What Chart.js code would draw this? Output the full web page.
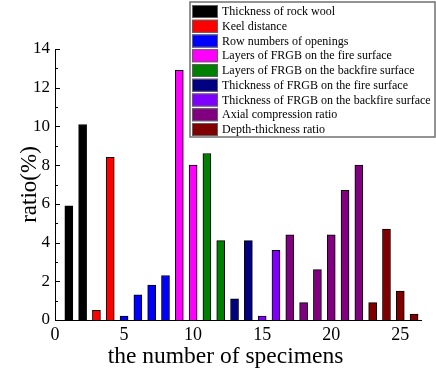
<!DOCTYPE html>
<html>
<head>
<meta charset="utf-8">
<script src="https://cdn.jsdelivr.net/npm/chart.js@4.4.1/dist/chart.umd.min.js"></script>
<style>
  html, body { margin: 0; padding: 0; background: #fff; }
</style>
</head>
<body>
<canvas id="ratioChart" width="436" height="372"></canvas>
<script>
// specimen groups (one colour per parameter)
const groupLabels = [
  'Thickness of rock wool',
  'Keel distance',
  'Row numbers of openings',
  'Layers of FRGB on the fire surface',
  'Layers of FRGB on the backfire surface',
  'Thickness of FRGB on the fire surface',
  'Thickness of FRGB on the backfire surface',
  'Axial compression ratio',
  'Depth-thickness ratio'
];
const groupColors = ['#000000', '#ff0000', '#0000ff', '#ff00ff', '#008000', '#000080', '#8000ff', '#800080', '#800000'];

// specimen numbers and ratio (%) for each group
const groupSpecimens = [
  [1, 2], [3, 4], [5, 6, 7, 8], [9, 10], [11, 12], [13, 14], [15, 16],
  [17, 18, 19, 20, 21, 22], [23, 24, 25, 26]
];
const groupRatios = [
  [5.9, 10.1], [0.5, 8.4], [0.2, 1.3, 1.8, 2.3], [12.9, 8.0], [8.6, 4.1], [1.1, 4.1], [0.2, 3.6],
  [4.4, 0.9, 2.6, 4.4, 6.7, 8.0], [0.9, 4.7, 1.5, 0.3]
];

// axis ticks
const xTicks = [0, 5, 10, 15, 20, 25];
const yTicks = [0, 2, 4, 6, 8, 10, 12, 14];
const yMinorTicks = [1, 3, 5, 7, 9, 11, 13];
const xTitle = 'the number of specimens';

const serif = 'Liberation Serif, Times New Roman, serif';

const datasets = groupLabels.map((label, i) => ({
  label: label,
  data: groupSpecimens[i].map((n, j) => ({ x: n, y: groupRatios[i][j] })),
  backgroundColor: groupColors[i],
  borderColor: '#000',
  borderWidth: 1,
  borderSkipped: 'bottom',
  barThickness: 8,
  grouped: false
}));

// inward tick marks on the y axis, long for labelled values and short in between
const yTickMarks = {
  id: 'yTickMarks',
  afterDraw(chart) {
    const ctx = chart.ctx;
    const y = chart.scales.y;
    const left = chart.chartArea.left;
    ctx.save();
    ctx.strokeStyle = '#000';
    ctx.lineWidth = 1;
    ctx.beginPath();
    yTicks.forEach((v) => {
      const py = Math.round(y.getPixelForValue(v)) + 0.5;
      ctx.moveTo(left, py);
      ctx.lineTo(left + 5, py);
    });
    yMinorTicks.forEach((v) => {
      const py = Math.round(y.getPixelForValue(v)) + 0.5;
      ctx.moveTo(left, py);
      ctx.lineTo(left + 3, py);
    });
    ctx.stroke();
    ctx.restore();
  }
};

// x axis title, sits a little left of the plot centre
const xAxisTitle = {
  id: 'xAxisTitle',
  afterDraw(chart) {
    const ctx = chart.ctx;
    ctx.save();
    ctx.fillStyle = '#000';
    ctx.font = '23.5px ' + serif;
    ctx.textAlign = 'center';
    ctx.textBaseline = 'alphabetic';
    ctx.fillText(xTitle, 225.5, 363);
    ctx.restore();
  }
};

// boxed legend in the top right corner, over the plot
const boxLegend = {
  id: 'boxLegend',
  afterDraw(chart) {
    const ctx = chart.ctx;
    const x0 = 190, y0 = 2, w = 245, h = 135;
    const rowH = 14.75;
    ctx.save();
    ctx.fillStyle = '#fff';
    ctx.fillRect(x0, y0, w, h);
    ctx.strokeStyle = '#707070';
    ctx.lineWidth = 1.5;
    ctx.strokeRect(x0, y0, w, h);
    ctx.font = '12px ' + serif;
    ctx.textBaseline = 'middle';
    chart.data.datasets.forEach((ds, i) => {
      const top = y0 + 3 + i * rowH;
      ctx.fillStyle = ds.backgroundColor;
      ctx.fillRect(x0 + 2, top, 26, 13);
      ctx.strokeStyle = '#606060';
      ctx.lineWidth = 1;
      ctx.strokeRect(x0 + 2.5, top + 0.5, 25, 12);
      ctx.fillStyle = '#000';
      ctx.fillText(ds.label, x0 + 32, top + 7);
    });
    ctx.restore();
  }
};

function createChart() {
  const ctx = document.getElementById('ratioChart').getContext('2d');
  return new Chart(ctx, {
    type: 'bar',
    data: { datasets: datasets },
    plugins: [yTickMarks, xAxisTitle, boxLegend],
    options: {
      responsive: false,
      animation: false,
      layout: { padding: { top: 49, right: 15, left: 0, bottom: 0 } },
      plugins: {
        legend: { display: false },
        tooltip: { enabled: false }
      },
      scales: {
        x: {
          type: 'linear',
          min: 0,
          max: 26.5,
          offset: false,
          grid: { display: false, drawTicks: false },
          border: { display: true, color: '#000', width: 1 },
          afterBuildTicks: (scale) => {
            scale.ticks = xTicks.map((v) => ({ value: v }));
          },
          afterFit: (scale) => { scale.height = 52; },
          ticks: {
            color: '#000',
            padding: 4,
            maxRotation: 0,
            autoSkip: false,
            font: { family: serif, size: 18 }
          },
          title: { display: false }
        },
        y: {
          min: 0,
          max: 14,
          grid: { display: false, drawTicks: false },
          border: { display: true, color: '#000', width: 1 },
          afterBuildTicks: (scale) => {
            scale.ticks = yTicks.map((v) => ({ value: v }));
          },
          afterFit: (scale) => { scale.width = 55; },
          ticks: {
            color: '#000',
            padding: 5,
            font: { family: serif, size: 17 }
          },
          title: {
            display: true,
            text: 'ratio(%)',
            color: '#000',
            padding: { top: 16 },
            font: { family: serif, size: 23 }
          }
        }
      }
    }
  });
}

document.addEventListener('DOMContentLoaded', createChart);
</script>
</body>
</html>
